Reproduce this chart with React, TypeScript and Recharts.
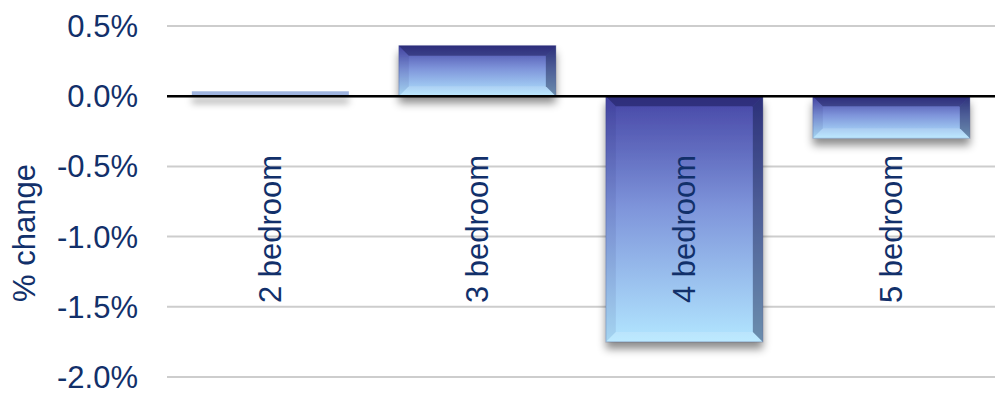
import React from 'react';
import { BarChart, Bar, XAxis, YAxis, CartesianGrid, ReferenceLine, LabelList } from 'recharts';

const categories = ['2 bedroom', '3 bedroom', '4 bedroom', '5 bedroom'];
const changeValues = [0.035, 0.36, -1.75, -0.3];
const yTicks = [-2, -1.5, -1, -0.5, 0, 0.5];

const data = categories.map((name, i) => ({ name, value: changeValues[i] }));

const NAVY = '#12306A';
const FONT = '"Liberation Sans", Arial, sans-serif';

const BevelBar = (props: any) => {
  const { x, y, width, height, index } = props;
  const top = Math.min(y, y + height);
  const h = Math.abs(height);
  const w = width;
  const id = `bar-${index}`;
  if (h < 12) {
    return (
      <g>
        <defs>
          <filter id={`${id}-sh`} x="-10%" y="-100%" width="120%" height="700%">
            <feDropShadow dx="0" dy="7" stdDeviation="3.5" floodColor="#000" floodOpacity="0.35" />
          </filter>
        </defs>
        <rect x={x} y={top} width={w} height={h} fill="#9EB3DE" filter={`url(#${id}-sh)`} />
      </g>
    );
  }
  const b = Math.min(10, h / 4);
  return (
    <g>
      <defs>
        <linearGradient id={`${id}-g`} x1="0" y1="0" x2="0" y2="1">
          <stop offset="0%" stopColor="#4646A6" />
          <stop offset="45%" stopColor="#7E94DA" />
          <stop offset="100%" stopColor="#B2E6FF" />
        </linearGradient>
        <filter id={`${id}-sh`} x="-10%" y="-20%" width="120%" height="160%">
          <feDropShadow dx="0" dy="7" stdDeviation="4" floodColor="#000" floodOpacity="0.45" />
        </filter>
      </defs>
      <rect x={x} y={top} width={w} height={h} fill={`url(#${id}-g)`} filter={`url(#${id}-sh)`} />
      <polygon
        points={`${x},${top} ${x + w},${top} ${x + w - b},${top + b} ${x + b},${top + b}`}
        fill="rgba(15,15,70,0.45)"
      />
      <polygon
        points={`${x + w},${top} ${x + w},${top + h} ${x + w - b},${top + h - b} ${x + w - b},${top + b}`}
        fill="rgba(10,20,60,0.42)"
      />
      <polygon
        points={`${x},${top} ${x + b},${top + b} ${x + b},${top + h - b} ${x},${top + h}`}
        fill="rgba(10,10,80,0.08)"
      />
      <polygon
        points={`${x},${top + h} ${x + w},${top + h} ${x + w - b},${top + h - b} ${x + b},${top + h - b}`}
        fill="rgba(255,255,255,0.15)"
      />
      <rect x={x} y={top} width={w} height={h} fill="none" stroke="rgba(40,50,110,0.3)" strokeWidth={1} />
    </g>
  );
};

const CategoryLabel = (props: any) => {
  const { x, width, value } = props;
  const cx = x + width / 2 + 11;
  const cy = 229;
  return (
    <text
      x={cx}
      y={cy}
      transform={`rotate(-90, ${cx}, ${cy})`}
      textAnchor="middle"
      fill={NAVY}
      fontSize={31}
      fontFamily={FONT}
    >
      {value}
    </text>
  );
};

const YLabel = () => (
  <text
    x={35}
    y={233}
    transform="rotate(-90, 35, 233)"
    textAnchor="middle"
    fill={NAVY}
    fontSize={31}
    fontFamily={FONT}
  >
    % change
  </text>
);

export default function App() {
  return (
    <div style={{ position: 'absolute', left: 0, top: 0, width: 998, height: 394, background: '#fff' }}>
      <BarChart
        width={998}
        height={394}
        data={data}
        margin={{ top: 26, right: 3, bottom: 17, left: 0 }}
        barCategoryGap="12%"
      >
        <CartesianGrid vertical={false} stroke="#CDCDCD" strokeWidth={2} />
        <XAxis dataKey="name" hide />
        <YAxis
          width={167}
          domain={[-2, 0.5]}
          ticks={yTicks}
          interval={0}
          axisLine={false}
          tickLine={false}
          tickSize={0}
          tickMargin={29}
          tickFormatter={(v: number) => `${v.toFixed(1)}%`}
          tick={{ fill: NAVY, fontSize: 31, fontFamily: FONT }}
          label={{ content: () => <YLabel /> }}
        />
        <Bar dataKey="value" isAnimationActive={false} shape={<BevelBar />}>
          <LabelList dataKey="name" content={<CategoryLabel />} />
        </Bar>
        <ReferenceLine y={0} stroke="#000" strokeWidth={2.5} />
      </BarChart>
    </div>
  );
}
